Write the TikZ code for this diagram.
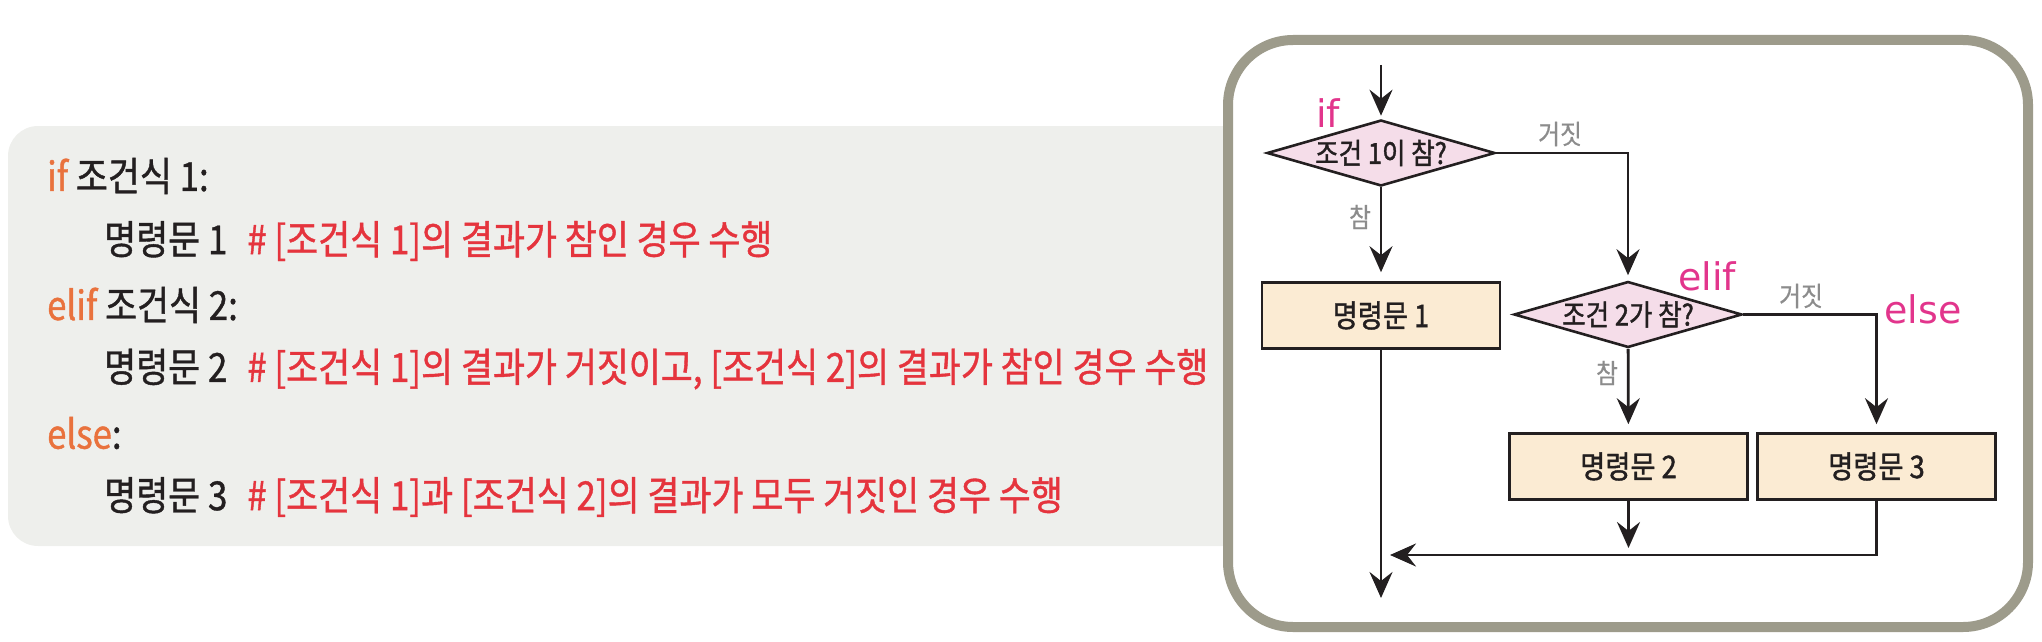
\documentclass[tikz,border=0pt]{standalone}
\usepackage{fontspec}
\usepackage{xcolor}
\usetikzlibrary{arrows.meta,
	shapes.geometric,
	positioning,
	calc}
\newfontfamily\kr[FakeStretch=0.87, FakeBold=1.0]{Noto Sans CJK KR}
\newfontfamily\krd[FakeStretch=0.88, FakeBold=1.4]{Noto Sans CJK KR}
\newfontfamily\kry[FakeStretch=0.88, FakeBold=0.6]{Noto Sans CJK KR}
\newfontfamily\hand{DejaVu Sans}
\definecolor{ink}{HTML}{231F20}
\definecolor{kwc}{HTML}{E9723D}
\definecolor{cmt}{HTML}{E5343D}
\definecolor{pinkc}{HTML}{E2358C}
\definecolor{ync}{HTML}{8C8C8C}
\definecolor{codebg}{HTML}{EEEFEC}
\definecolor{frame}{HTML}{9D9B8B}
\definecolor{condfill}{HTML}{F5DDE9}
\definecolor{stmtfill}{HTML}{FBEBD3}
\tikzstyle{code}=[anchor=west, inner sep=0, text=ink, font=\kr\fontsize{40}{46}\selectfont]
\tikzstyle{cond}=[diamond, draw=ink, line width=2.6pt, fill=condfill, inner sep=0,
		shape aspect=3.45, minimum width=228pt, minimum height=66pt,
		text=ink, font=\krd\fontsize{29}{33}\selectfont]
\tikzstyle{stmt}=[rectangle, draw=ink, line width=2.6pt, fill=stmtfill, inner sep=0,
		minimum width=238pt, minimum height=66pt,
		text=ink, font=\krd\fontsize{31}{35}\selectfont]
\tikzstyle{yn}=[inner sep=0, text=ync, font=\kry\fontsize{27}{31}\selectfont]
\tikzstyle{kwp}=[anchor=base, inner sep=0, text=pinkc, font=\hand\fontsize{38}{40}\selectfont]
\tikzstyle{arr}=[draw=ink, line width=2.8pt,
		-{Stealth[length=26pt, width=23pt, inset=9pt]}]

\begin{document}
\begin{tikzpicture}[x=1pt, y=-1pt]
        \useasboundingbox (0,0) rectangle (2042,642);
        % code panel
        \fill[codebg, rounded corners=30pt] (8,126) rectangle (1300,546);
        \node[code] (l1) at (47,176) {{\color{kwc}if} 조건식 1:};
        \node[code] (l2) at (104,241) {명령문 1\hspace{.5em}{\color{cmt}\# [조건식 1]의 결과가 참인 경우 수행}};
        \node[code] (l3) at (47,305) {{\color{kwc}elif} 조건식 2:};
        \node[code] (l4) at (104,369) {명령문 2\hspace{.5em}{\color{cmt}\# [조건식 1]의 결과가 거짓이고, [조건식 2]의 결과가 참인 경우 수행}};
        \node[code] (l5) at (47,433) {{\color{kwc}else}:};
        \node[code] (l6) at (104,497) {명령문 3\hspace{.5em}{\color{cmt}\# [조건식 1]과 [조건식 2]의 결과가 모두 거짓인 경우 수행}};
        % flowchart panel
        \draw[frame, fill=white, line width=10pt, rounded corners=65pt] (1228,40) rectangle (2028,627);
        \coordinate (start) at (1381,65);
        \node[cond] (c1) at (1381,153) {조건 1이 참?};
        \node[stmt] (s1) at (1381,315.5) {명령문 1};
        \node[cond] (c2) at (1628,314.5) {조건 2가 참?};
        \node[stmt] (s2) at (1628.5,466.5) {명령문 2};
        \node[stmt] (s3) at (1876.5,466.5) {명령문 3};
        \coordinate (join) at (1381,555);
        \coordinate (stop) at (1381,598);
        \draw[arr, shorten >=3pt] (start) -- (c1);
        \draw[arr, shorten >=9pt] (c1) -- (s1);
        \draw[arr, shorten >=5pt] (c1.east) -| (c2.north);
        \draw[arr, shorten >=8pt] (c2) -- (s2);
        \draw[arr, shorten >=8pt] (c2.east) -| (s3.north);
        \draw[arr, shorten >=7pt] (s2) -- (s2 |- join);
        \draw[arr, shorten >=9pt] (s3.south) |- (join);
        \draw[arr] (s1) -- (stop);
        % labels
        \node[kwp] (kif) at (1328,127) {if};
        \node[kwp] (kelif) at (1707,290) {elif};
        \node[kwp] (kelse) at (1923,323) {else};
        \node[yn] (f1) at (1560,134) {거짓};
        \node[yn] (t1) at (1360,217) {참};
        \node[yn] (f2) at (1801,296) {거짓};
        \node[yn] (t2) at (1607,373) {참};
    \end{tikzpicture}
\end{document}
